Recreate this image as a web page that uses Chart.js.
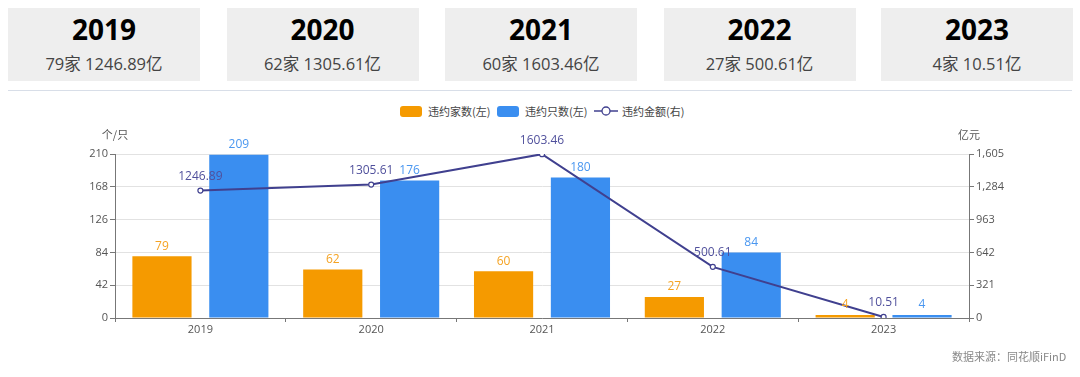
<!DOCTYPE html>
<html>
<head>
<meta charset="utf-8">
<script src="https://cdn.jsdelivr.net/npm/chart.js@4.4.0/dist/chart.umd.min.js"></script>
<style>
  html, body { margin:0; padding:0; background:#fff; width:1080px; height:377px; overflow:hidden; }
  body { position:relative; font-family:"Open Sans","Noto Sans CJK SC",sans-serif; }
  .card { position:absolute; top:8px; height:73px; width:192px; background:#eeeeee; text-align:center; }
  .card .yr { position:absolute; left:0; right:0; top:1px; font-size:28px; line-height:40px; font-weight:bold; color:#000; font-family:"Open Sans","Noto Sans CJK SC",sans-serif; }
  .card .sub { position:absolute; left:0; right:0; top:44px; font-size:16.5px; line-height:24px; color:#444; font-family:"Open Sans","Noto Sans CJK SC",sans-serif; }
  .divider { position:absolute; left:8px; width:1064px; top:90px; height:1px; background:#d8dee8; }
  #chart { position:absolute; left:0; top:95px; }
  .legend { position:absolute; top:103px; height:16px; font-size:11px; color:#444; font-family:"Noto Sans CJK SC",sans-serif; line-height:16px; }
  .legend .sw { position:absolute; top:3px; width:22px; height:11px; border-radius:3px; }
  .legend .tx { position:absolute; top:0; white-space:nowrap; }
  .src { position:absolute; left:952px; top:348px; font-size:11px; color:#888; font-family:"Noto Sans CJK SC",sans-serif; white-space:nowrap; }
</style>
</head>
<body>
<div id="cards"></div>
<div class="divider"></div>
<div class="legend" style="left:0;width:1080px;">
  <div class="sw" style="left:400px;background:#f59a00;"></div>
  <div class="tx" style="left:428px;">违约家数(左)</div>
  <div class="sw" style="left:497px;background:#3a8ef0;"></div>
  <div class="tx" style="left:525px;">违约只数(左)</div>
  <svg style="position:absolute;left:594px;top:2px;" width="24" height="12"><line x1="0" y1="6" x2="24" y2="6" stroke="#40408f" stroke-width="1.5"/><circle cx="12" cy="6" r="4" fill="#fff" stroke="#40408f" stroke-width="1.3"/></svg>
  <div class="tx" style="left:622px;">违约金额(右)</div>
</div>
<canvas id="chart" width="1080" height="282"></canvas>
<div class="src">数据来源：同花顺iFinD</div>
<script>
const years = ['2019','2020','2021','2022','2023'];
const companyCounts = [79, 62, 60, 27, 4];
const bondCounts = [209, 176, 180, 84, 4];
const defaultAmounts = [1246.89, 1305.61, 1603.46, 500.61, 10.51];
const leftTicks = [0, 42, 84, 126, 168, 210];
const rightTicks = [0, 321, 642, 963, 1284, 1605];

// summary cards
const cardsEl = document.getElementById('cards');
const cardLeft = [8, 226.5, 445, 663.5, 881];
years.forEach((y, i) => {
  const d = document.createElement('div');
  d.className = 'card';
  d.style.left = cardLeft[i] + 'px';
  d.innerHTML = '<div class="yr">' + y + '</div><div class="sub">' + companyCounts[i] + '家 ' + defaultAmounts[i].toFixed(2) + '亿</div>';
  cardsEl.appendChild(d);
});

const labelPlugin = {
  id: 'valueLabels',
  afterDatasetsDraw(chart) {
    const ctx = chart.ctx;
    ctx.save();
    ctx.textAlign = 'center';
    ctx.textBaseline = 'middle';
    ctx.font = '12px "Open Sans","Noto Sans CJK SC",sans-serif';
    chart.data.datasets.forEach((ds, di) => {
      const meta = chart.getDatasetMeta(di);
      meta.data.forEach((el, i) => {
        const v = ds.data[i];
        const txt = ds.type === 'line' ? v.toFixed(2) : String(v);
        ctx.fillStyle = ds.labelColor;
        const off = ds.type === 'line' ? 14 : 10;
        ctx.fillText(txt, el.x, el.y - off);
      });
    });
    // axis unit titles
    ctx.font = '11px "Noto Sans CJK SC",sans-serif';
    ctx.fillStyle = '#555';
    const yL = chart.scales.y, yR = chart.scales.y1;
    ctx.fillText('个/只', yL.right, yL.top - 19);
    ctx.fillText('亿元', yR.left, yR.top - 19);
    ctx.restore();
  }
};

const tickFont = { size: 11, family: '"Open Sans","Noto Sans CJK SC",sans-serif' };

new Chart(document.getElementById('chart'), {
  data: {
    labels: years,
    datasets: [
      {
        type: 'line', label: '违约金额(右)', data: defaultAmounts, yAxisID: 'y1', order: 0,
        borderColor: '#40408f', borderWidth: 2, backgroundColor: '#fff',
        pointRadius: 2.5, pointBorderWidth: 1.2, pointBorderColor: '#40408f', pointBackgroundColor: '#fff',
        tension: 0, labelColor: '#50509c'
      },
      {
        type: 'bar', label: '违约家数(左)', data: companyCounts, yAxisID: 'y', order: 1,
        backgroundColor: '#f59a00', categoryPercentage: 0.9, barPercentage: 0.77, labelColor: '#f5a323'
      },
      {
        type: 'bar', label: '违约只数(左)', data: bondCounts, yAxisID: 'y', order: 2,
        backgroundColor: '#3a8ef0', categoryPercentage: 0.9, barPercentage: 0.77, labelColor: '#4a97f0'
      }
    ]
  },
  options: {
    responsive: false,
    devicePixelRatio: 1,
    animation: false,
    layout: { padding: { top: 59, left: 0, right: 0, bottom: 0 } },
    plugins: { legend: { display: false }, tooltip: { enabled: false } },
    scales: {
      x: {
        offset: true,
        grid: { offset: true, drawOnChartArea: false, tickLength: 4, tickColor: '#777', tickWidth: 1 },
        border: { color: '#777', width: 1 },
        ticks: { color: '#555', font: tickFont, padding: 1, maxRotation: 0 },
        afterFit(s) { s.height = 59; }
      },
      y: {
        position: 'left', min: 0, max: 210,
        afterBuildTicks(s) { s.ticks = leftTicks.map(v => ({ value: v })); },
        grid: { color: '#e2e2e2', tickLength: 5, tickColor: '#777', lineWidth: 1 },
        border: { color: '#777', width: 1 },
        ticks: { color: '#555', font: tickFont, padding: 2 },
        afterFit(s) { s.width = 115; }
      },
      y1: {
        position: 'right', min: 0, max: 1605,
        afterBuildTicks(s) { s.ticks = rightTicks.map(v => ({ value: v })); },
        grid: { drawOnChartArea: false, tickLength: 5, tickColor: '#777' },
        border: { color: '#777', width: 1 },
        ticks: { color: '#555', font: tickFont, padding: 2 },
        afterFit(s) { s.width = 111; }
      }
    }
  },
  plugins: [labelPlugin]
});
</script>
</body>
</html>
